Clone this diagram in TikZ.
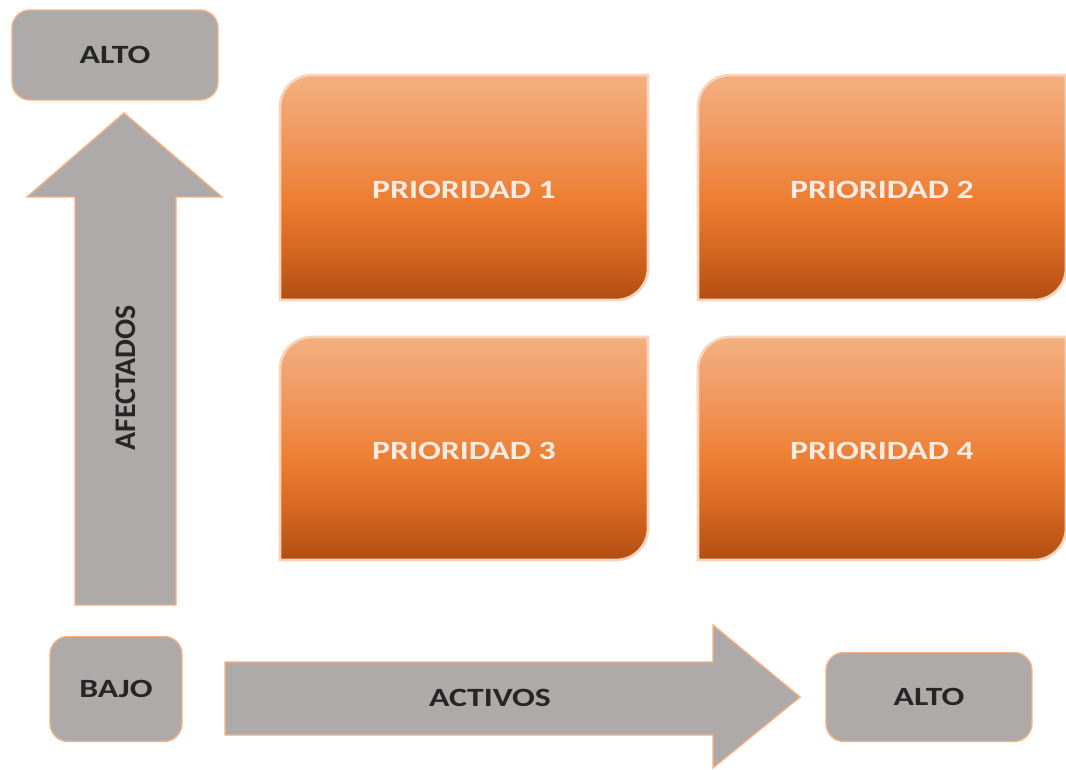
\documentclass[tikz,border=0pt]{standalone}
\usepackage{fontspec}
\setmainfont{Carlito}[FakeStretch=1.28]
\newfontfamily\plaincarlito{Carlito}
\definecolor{boxgray}{RGB}{174,170,169}
\definecolor{rimorange}{RGB}{244,177,131}
\definecolor{prtop}{RGB}{243,176,128}
\definecolor{prlight}{RGB}{240,152,95}
\definecolor{prmid}{RGB}{237,125,49}
\definecolor{prdeep}{RGB}{212,102,32}
\definecolor{prbot}{RGB}{178,78,18}
\definecolor{labeltext}{RGB}{38,38,38}
\definecolor{prtext}{RGB}{250,236,226}
\pgfdeclareverticalshading{priofade}{100bp}{color(0bp)=(prbot); color(25bp)=(prbot);
    color(36bp)=(prdeep); color(47bp)=(prmid); color(61bp)=(prlight);
    color(75bp)=(prtop); color(100bp)=(prtop)}

\begin{document}
\begin{tikzpicture}[x=0.02cm, y=-0.02cm,
            every node/.style = {font      = \fontsize{15}{18}\selectfont\bfseries,
                                inner sep = 0pt},
            levelbox/.style   = {draw           = rimorange,
                                fill           = boxgray,
                                line width     = 0.8pt,
                                rounded corners = 0.36cm,
                                text           = labeltext},
            blockarrow/.style = {draw       = rimorange,
                                fill       = boxgray,
                                line width = 0.8pt},
            prio/.style       = {draw       = rimorange!55,
                                line width = 1.5pt,
                                shading    = priofade},
            priotext/.style   = {text = prtext}
            ]
            \newcommand{\priobox}[6]{%
                \draw [prio] (#1,#4) -- (#1,#2+32)
                             arc[start angle=180, end angle=270, radius=32]
                             -- (#3,#2) -- (#3,#4-32)
                             arc[start angle=0, end angle=90, radius=32]
                             -- cycle;
                \node [priotext] (#5) at ({(#1+#3)/2},{(#2+#4)/2+2}) {#6};
            }
            \useasboundingbox (0,0) rectangle (1066,770);

            \node [levelbox,
                minimum width  = 4.12cm,
                minimum height = 1.8cm] (topalto) at (115,55) {ALTO};
            \node [levelbox,
                minimum width  = 2.64cm,
                minimum height = 2.1cm] (bajo) at (116,689) {BAJO};
            \node [levelbox,
                minimum width  = 4.12cm,
                minimum height = 1.78cm] (rightalto) at (929,697) {ALTO};

            \draw [blockarrow] (75,605) -- (75,197) -- (27,197) -- (124,113)
                               -- (222,197) -- (176,197) -- (176,605) -- cycle;
            \node [text = labeltext, rotate = 90,
                font = \fontsize{17}{20}\selectfont\plaincarlito\bfseries]
                (afectados) at (126,378) {AFECTADOS};
            \draw [blockarrow] (225,662) -- (713,662) -- (713,625) -- (800,697)
                               -- (713,768) -- (713,735) -- (225,735) -- cycle;
            \node [text = labeltext] (activos) at (490,698) {ACTIVOS};

            \priobox{280}{75}{648}{300}{prio1}{PRIORIDAD 1}
            \priobox{698}{75}{1066}{300}{prio2}{PRIORIDAD 2}
            \priobox{280}{337}{648}{560}{prio3}{PRIORIDAD 3}
            \priobox{698}{337}{1066}{560}{prio4}{PRIORIDAD 4}
\end{tikzpicture}
\end{document}
